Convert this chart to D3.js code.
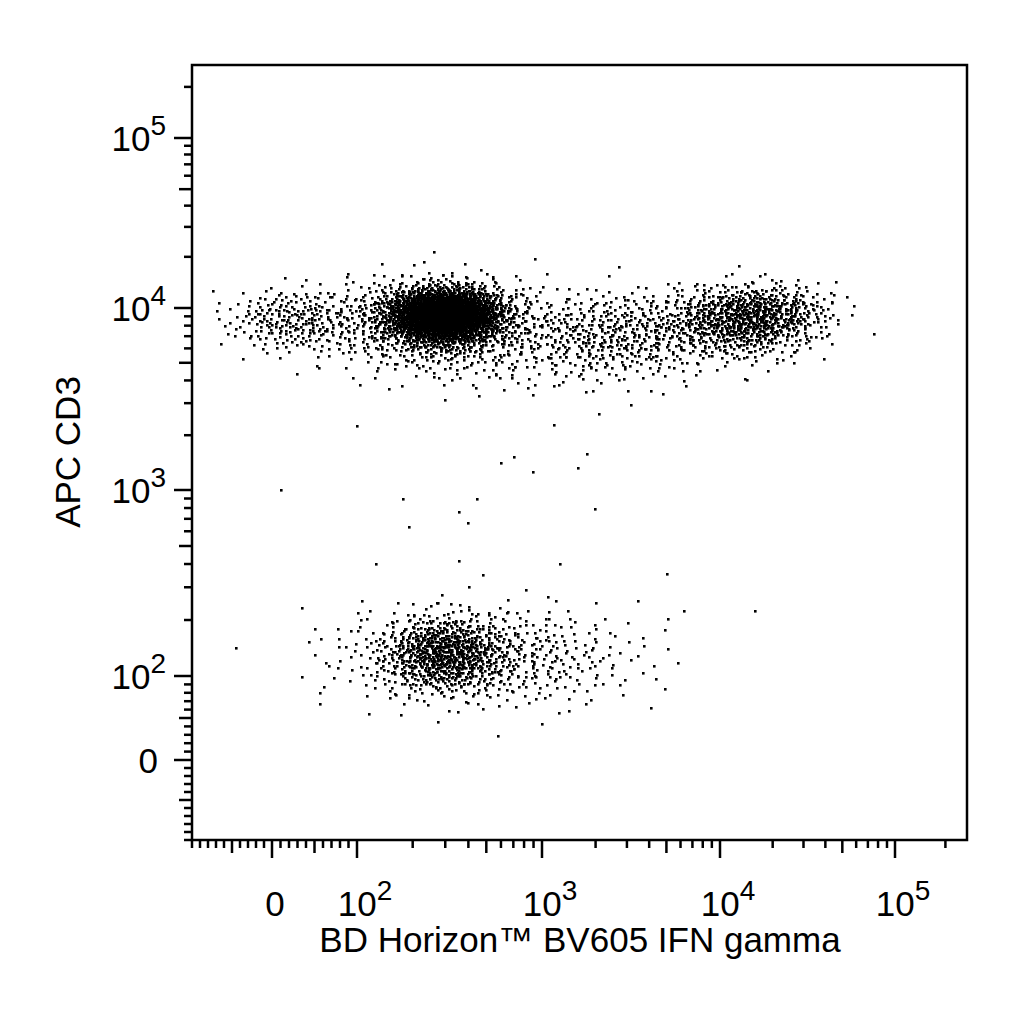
<!DOCTYPE html>
<html><head><meta charset="utf-8">
<script src="https://cdn.jsdelivr.net/npm/d3@7"></script>
<style>body{margin:0;background:#fff}text{font-family:"Liberation Sans",Arial,sans-serif}</style>
</head><body><svg id="c" width="1024" height="1024"></svg>
<script>
// Axis display units: "u" = log10(value) above 100; linear region around 0 (0 -> u 1.5)
const xLabels = ["0","10^2","10^3","10^4","10^5"];
const xLabelU = [1.5,2,3,4,5];
const yLabels = ["0","10^2","10^3","10^4","10^5"];
const yLabelU = [1.5,2,3,4,5];
// Population blobs in display units: [centerX, centerY, sdX, sdY, count]
const blobX  = [2.47,2.43,4.12,3.45,1.62,2.47,2.7,4.3,3.0];
const blobY  = [3.96,3.92,3.93,3.86,3.93,2.12,2.10,3.98,3.75];
const blobSX = [0.15,0.30,0.22,0.32,0.20,0.17,0.42,0.18,0.45];
const blobSY = [0.075,0.13,0.10,0.12,0.09,0.10,0.14,0.08,0.12];
const blobN  = [2300,800,650,450,230,650,500,200,150];
// isolated events between populations [u x, u y]
const sparseX = [2.25,2.28,2.6,2.55,2.65,2.95,3.2,3.25,2.1,2.55,2.78,2.85,1.55,2.0,3.1,3.3,3.7,4.2,3.8];
const sparseY = [2.95,2.8,2.82,2.88,2.95,3.1,3.12,3.2,2.6,2.62,3.15,3.18,3.0,3.35,2.6,2.9,2.55,2.35,2.35];

const svg = d3.select("#c");
const L=192,R=967,T=65,B=840;
const x = d3.scaleLinear().domain([1.0,1.5,2,3,4,5,5.43]).range([L,272,357,542,720,895,R]);
const y = d3.scaleLinear().domain([1.0,1.5,2,3,4,5,5.43]).range([B,760,676,490,308,138,T]);
function vToU(v){return v<=100? 1.5+0.5*v/100 : Math.log10(v);}
function vdc(i,b){let f=1,r=0;while(i>0){f/=b;r+=f*(i%b);i=Math.floor(i/b);}return r;}

const pts=[];
blobN.forEach((n,b)=>{
  for(let i=0;i<n;i++){
    const p=(vdc(i+1,2)*0.998+0.001), a=2*Math.PI*vdc(i+1,3);
    const r=Math.sqrt(-2*Math.log(p));
    pts.push([blobX[b]+blobSX[b]*r*Math.cos(a), blobY[b]+blobSY[b]*r*Math.sin(a)]);
  }
});
sparseX.forEach((v,i)=>pts.push([v,sparseY[i]]));
const g=svg.append("g");
g.selectAll("rect").data(pts.filter(p=>p[0]>1.02&&p[0]<5.4&&p[1]>1.02&&p[1]<5.4)).join("rect")
 .attr("x",d=>Math.round(x(d[0]))-1).attr("y",d=>Math.round(y(d[1]))-1)
 .attr("width",2.6).attr("height",2.6).attr("fill","#000");

svg.append("rect").attr("x",L).attr("y",T).attr("width",R-L).attr("height",B-T)
 .attr("fill","none").attr("stroke","#000").attr("stroke-width",2.5);

const ticks=[];
for(let v=-100;v<100;v+=10){ticks.push({u:vToU(v),len:v===0?18:(Math.abs(v)===50?13:8)});}
for(let d=2;d<=5;d++){ticks.push({u:d,len:18}); if(d<5) for(let k=2;k<=9;k++) ticks.push({u:d+Math.log10(k),len:k===5?13:8});}
ticks.push({u:5+Math.log10(2),len:8});
const tk=ticks.filter(t=>t.u>=1.0&&t.u<=5.43);
svg.append("g").selectAll("line").data(tk).join("line")
 .attr("x1",d=>x(d.u)).attr("x2",d=>x(d.u)).attr("y1",B).attr("y2",d=>B+d.len)
 .attr("stroke","#000").attr("stroke-width",2.5);
svg.append("g").selectAll("line").data(tk).join("line")
 .attr("y1",d=>y(d.u)).attr("y2",d=>y(d.u)).attr("x1",L).attr("x2",d=>L-d.len)
 .attr("stroke","#000").attr("stroke-width",2.5);

function lab(sel,s){
  if(s.includes("^")){const [b,e]=s.split("^");sel.append("tspan").text(b);
    sel.append("tspan").attr("dy",-16).attr("font-size",28).text(e);}
  else sel.text(s);
}
xLabels.forEach((s,i)=>{
  const t=svg.append("text").attr("x",x(xLabelU[i])+(s==="0"?3:8)).attr("y",916)
    .attr("text-anchor","middle").attr("font-size",35);
  lab(t,s);
});
yLabels.forEach((s,i)=>{
  const t=svg.append("text").attr("x",s==="0"?158:166).attr("y",y(yLabelU[i])+13)
    .attr("text-anchor","end").attr("font-size",35);
  lab(t,s);
});
svg.append("text").attr("x",580).attr("y",952).attr("text-anchor","middle").attr("font-size",35)
 .text("BD Horizon™ BV605 IFN gamma");
svg.append("text").attr("transform","translate(80,452) rotate(-90)").attr("text-anchor","middle")
 .attr("font-size",35).text("APC CD3");
</script></body></html>
